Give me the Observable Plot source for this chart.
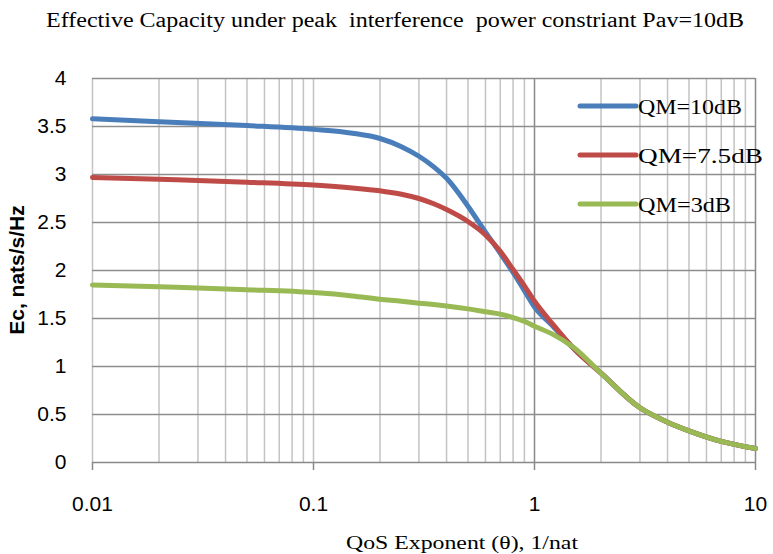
<!DOCTYPE html>
<html><head><meta charset="utf-8">
<script src="https://cdn.jsdelivr.net/npm/d3@7"></script>
<script src="https://cdn.jsdelivr.net/npm/@observablehq/plot@0.6"></script>
<style>
body{margin:0;background:#fff;}
#wrap{position:relative;width:773px;height:554px;overflow:hidden;background:#fff;}
.fit{position:absolute;display:inline-block;white-space:pre;color:#000;transform-origin:0 50%;line-height:1;}
#title{font-family:"Liberation Serif",serif;font-size:20px;}
#xlabel{font-family:"Liberation Serif",serif;font-size:19px;}
#ylabel{position:absolute;left:17px;top:270px;transform:translate(-50%,-50%) rotate(-90deg);font-family:"Liberation Sans",sans-serif;font-weight:bold;font-size:21px;white-space:nowrap;color:#000;}
.legline{position:absolute;left:576px;}
.legtext{font-family:"Liberation Serif",serif;font-size:21px;}
</style></head><body><div id="wrap"><div id="ylabel"></div></div>
<script>
const chartTitle = "Effective Capacity under peak  interference  power constriant Pav=10dB";
const xTitle = "QoS Exponent (θ), 1/nat";
const yTitle = "Ec, nats/s/Hz";

const theta  = [0.01, 0.02, 0.05, 0.1, 0.15, 0.2, 0.25, 0.3, 0.35, 0.4, 0.5, 0.6, 0.7, 0.8, 0.9, 1, 1.2, 1.5, 2, 3, 4, 5, 7, 10];
const ecQM10 = [3.58, 3.55, 3.51, 3.47, 3.43, 3.375, 3.29, 3.19, 3.08, 2.96, 2.67, 2.40, 2.18, 1.98, 1.79, 1.62, 1.43, 1.19, 0.93, 0.57, 0.42, 0.33, 0.22, 0.145];
const ecQM75 = [2.97, 2.95, 2.92, 2.89, 2.86, 2.83, 2.795, 2.75, 2.695, 2.635, 2.51, 2.37, 2.20, 2.01, 1.84, 1.68, 1.45, 1.19, 0.93, 0.57, 0.42, 0.33, 0.22, 0.145];
const ecQM3  = [1.85, 1.83, 1.80, 1.77, 1.735, 1.70, 1.68, 1.66, 1.645, 1.63, 1.60, 1.57, 1.545, 1.51, 1.47, 1.42, 1.34, 1.20, 0.93, 0.57, 0.42, 0.33, 0.22, 0.145];

const seriesNames = ["QM=10dB", "QM=7.5dB", "QM=3dB"];
const seriesColors = ["#4a7ebb", "#be4b48", "#98b954"];
const seriesValues = [ecQM10, ecQM75, ecQM3];

const xMajorTicks = [0.01, 0.1, 1, 10];
const xTickLabels = ["0.01", "0.1", "1", "10"];
const xMinorTicks = [0.02,0.03,0.04,0.05,0.06,0.07,0.08,0.09,
                     0.2,0.3,0.4,0.5,0.6,0.7,0.8,0.9,
                     2,3,4,5,6,7,8,9];
const yTicks = [0, 0.5, 1, 1.5, 2, 2.5, 3, 3.5, 4];
const yTickLabels = ["0", "0.5", "1", "1.5", "2", "2.5", "3", "3.5", "4"];

const rows = seriesNames.flatMap((name, i) =>
  theta.map((t, j) => ({theta: t, ec: seriesValues[i][j], series: name})));

const plot = Plot.plot({
  width: 773, height: 554,
  marginTop: 78, marginBottom: 92, marginLeft: 92, marginRight: 18,
  style: {background: "transparent", overflow: "visible"},
  x: {type: "log", domain: [0.01, 10]},
  y: {domain: [0, 4]},
  color: {domain: seriesNames, range: seriesColors},
  marks: [
    Plot.ruleX(xMinorTicks, {stroke: "#c3c3c3", strokeWidth: 1.5}),
    Plot.ruleX([0.01, 0.1], {stroke: "#c3c3c3", strokeWidth: 1.5}),
    Plot.ruleX([1, 10], {stroke: "#898989", strokeWidth: 1.5}),
    Plot.ruleY(yTicks.filter(v => v > 0), {stroke: "#8e8e8e", strokeWidth: 1.5}),
    Plot.ruleY([0], {stroke: "#898989", strokeWidth: 1.5}),
    Plot.axisX({ticks: xMajorTicks, tickFormat: d => xTickLabels[xMajorTicks.indexOf(d)],
      tickSize: 8, tickPadding: 26, fontSize: 21, fontFamily: "Liberation Sans", stroke: "#898989", strokeWidth: 1.5, fill: "#000", label: null}),
    Plot.axisY({ticks: yTicks, tickFormat: d => yTickLabels[yTicks.indexOf(d)],
      tickSize: 0, tickPadding: 26, fontSize: 21, fontFamily: "Liberation Sans", fill: "#000", label: null}),
    Plot.line(rows, {x: "theta", y: "ec", stroke: "series", z: "series", strokeWidth: 5, curve: "monotone-x", strokeLinecap: "round", strokeLinejoin: "round"})
  ]
});

const wrap = document.getElementById("wrap");
wrap.prepend(plot);
plot.style.position = "absolute"; plot.style.left = "0"; plot.style.top = "0";
document.getElementById("ylabel").textContent = yTitle;

// place a text span so that it spans [x0, x1] horizontally, centred vertically at yc
function fitText(text, cls, id, x0, x1, yc) {
  const s = document.createElement("span");
  s.className = "fit " + (cls || "");
  if (id) s.id = id;
  s.textContent = text;
  wrap.appendChild(s);
  const r = s.getBoundingClientRect();
  const k = (x1 - x0) / r.width;
  s.style.left = x0 + "px";
  s.style.top = (yc - r.height / 2) + "px";
  s.style.transform = `scaleX(${k})`;
  return s;
}
fitText(chartTitle, "", "title", 46, 744, 20);
fitText(xTitle, "", "xlabel", 346, 578, 542);

const legendY = [106, 155, 204];
const legendTextWidths = [104, 125, 93];
seriesNames.forEach((name, i) => {
  const svg = document.createElementNS("http://www.w3.org/2000/svg", "svg");
  svg.setAttribute("width", 64); svg.setAttribute("height", 10);
  svg.setAttribute("class", "legline");
  svg.style.top = (legendY[i] - 5) + "px";
  svg.innerHTML = `<line x1="4" y1="5" x2="60" y2="5" stroke="${seriesColors[i]}" stroke-width="5" stroke-linecap="round"/>`;
  wrap.appendChild(svg);
  fitText(name, "legtext", null, 638, 638 + legendTextWidths[i], legendY[i] + 1);
});
</script></body></html>
